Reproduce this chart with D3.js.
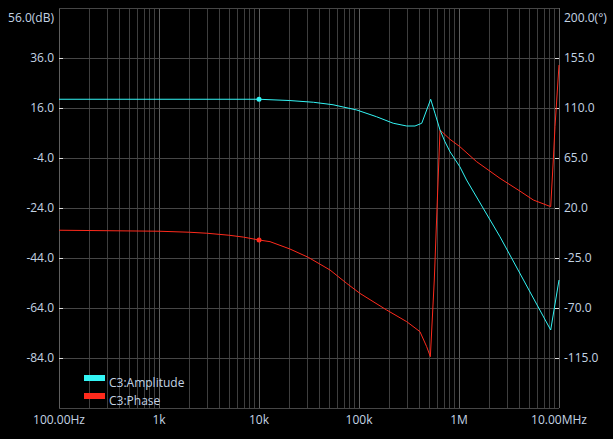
<!DOCTYPE html>
<html>
<head>
<meta charset="utf-8">
<script src="https://cdn.jsdelivr.net/npm/d3@7"></script>
<style>
  html, body { margin: 0; padding: 0; background: #000; }
  svg { display: block; }
  text { font-family: "Open Sans", "Noto Sans", sans-serif; font-size: 12px; fill: #c4d4e4; }
</style>
</head>
<body>
<svg id="chart" width="613" height="439"></svg>
<script>
// Frequency axis (Hz) and its labels
const freqTicks = [1e2, 1e3, 1e4, 1e5, 1e6, 1e7];
const freqLabels = ['100.00Hz', '1k', '10k', '100k', '1M', '10.00MHz'];

// Left axis (dB) and right axis (degrees)
const ampTicks = [56, 36, 16, -4, -24, -44, -64, -84];
const ampLabels = ['56.0(dB)', '36.0', '16.0', '-4.0', '-24.0', '-44.0', '-64.0', '-84.0'];
const phaseTicks = [200, 155, 110, 65, 20, -25, -70, -115];
const phaseLabels = ['200.0(°)', '155.0', '110.0', '65.0', '20.0', '-25.0', '-70.0', '-115.0'];

// C3:Amplitude [Hz, dB]
const ampFreq = [100, 1e4, 2e4, 3.5e4, 5.5e4, 9.5e4, 1.5e5, 2.2e5, 3e5, 3.63e5, 4.24e5, 5.21e5,
                 5.75e5, 6.46e5, 7.24e5, 8.13e5, 1.02e6, 1.19e6, 2.57e6, 8.26e6, 1e7];
const ampDb   = [19.5, 19.5, 19.0, 18.3, 17.3, 15.2, 12.5, 9.9, 8.8, 8.8, 9.9, 19.5,
                 13.9, 7.2, 2.5, -1.5, -7.5, -12.8, -35.5, -72.8, -52.8];

// C3:Phase  [Hz, degrees]
const phaseFreq = [100, 1e3, 2e3, 3e3, 5e3, 7e3, 1e4, 1.29e4, 2.04e4, 3.11e4, 5.13e4, 7.53e4, 1.02e5,
                   1.89e5, 3e5, 4.07e5, 4.75e5, 5.17e5, 5.66e5, 6.46e5, 8.13e5, 1.02e6, 1.5e6,
                   2.57e6, 4.07e6, 5.54e6, 8.26e6, 8.77e6, 9.12e6, 1e7];
const phaseDeg  = [0, -0.9, -1.8, -2.7, -4.5, -6.2, -8.8, -10.3, -16.9, -24.4, -35.8, -47.8, -56.8,
                   -71.8, -82.3, -91.3, -104.8, -113.8, -44.8, 90.2, 81.8, 75.2, 61.7,
                   46.7, 35.2, 27.2, 21.2, 63.2, 93.2, 148.7];

const markerFreq = 1e4;

const seriesNames = ['C3:Amplitude', 'C3:Phase'];
const seriesColors = ['#33f5f5', '#ff2a1c'];

const plot = { left: 59, right: 559, top: 8, bottom: 408 };

const svg = d3.select('#chart');

const x = d3.scaleLog().domain([1e2, 1e7]).range([plot.left, plot.right]);
const yAmp = d3.scaleLinear().domain([-104, 56]).range([plot.bottom, plot.top]);
const yPhase = d3.scaleLinear().domain([-160, 200]).range([plot.bottom, plot.top]);

// Grid: vertical log lines (decades brighter)
const grid = svg.append('g').attr('class', 'grid');
const vLines = [];
for (let dec = 1e2; dec < 1e7; dec *= 10) {
    for (let k = 1; k <= 9; k++) vLines.push({ f: dec * k, major: k === 1 });
}
vLines.push({ f: 1e7, major: true });

grid.selectAll('line.v')
    .data(vLines)
    .join('line')
    .attr('class', 'v')
    .attr('x1', d => Math.round(x(d.f)) + 0.5)
    .attr('x2', d => Math.round(x(d.f)) + 0.5)
    .attr('y1', plot.top)
    .attr('y2', plot.bottom)
    .attr('stroke', d => d.major ? '#5e5e5e' : '#3e3e3e')
    .attr('stroke-width', 1);

// horizontal lines, including the bottom edge
grid.selectAll('line.h')
    .data(ampTicks.concat([-104]))
    .join('line')
    .attr('class', 'h')
    .attr('x1', plot.left)
    .attr('x2', plot.right)
    .attr('y1', d => Math.round(yAmp(d)) + 0.5)
    .attr('y2', d => Math.round(yAmp(d)) + 0.5)
    .attr('stroke', '#464646')
    .attr('stroke-width', 1);

// Left axis: small inner ticks + labels
const leftAxis = svg.append('g').attr('class', 'axis-left');
leftAxis.selectAll('line')
    .data(ampTicks.slice(1))
    .join('line')
    .attr('x1', plot.left)
    .attr('x2', plot.left + 4)
    .attr('y1', d => Math.round(yAmp(d)) + 0.5)
    .attr('y2', d => Math.round(yAmp(d)) + 0.5)
    .attr('stroke', '#dddddd');
leftAxis.selectAll('text')
    .data(ampTicks)
    .join('text')
    .attr('x', 54)
    .attr('y', (d, i) => i === 0 ? yAmp(d) + 10 : yAmp(d))
    .attr('dy', '0.35em')
    .attr('text-anchor', 'end')
    .text((d, i) => ampLabels[i]);

// Right axis
const rightAxis = svg.append('g').attr('class', 'axis-right');
rightAxis.selectAll('line')
    .data(phaseTicks.slice(1))
    .join('line')
    .attr('x1', plot.right - 4)
    .attr('x2', plot.right)
    .attr('y1', d => Math.round(yPhase(d)) + 0.5)
    .attr('y2', d => Math.round(yPhase(d)) + 0.5)
    .attr('stroke', '#dddddd');
rightAxis.selectAll('text')
    .data(phaseTicks)
    .join('text')
    .attr('x', 564)
    .attr('y', (d, i) => i === 0 ? yPhase(d) + 9.5 : yPhase(d))
    .attr('dy', '0.35em')
    .attr('text-anchor', 'start')
    .text((d, i) => phaseLabels[i]);

// Bottom axis labels
svg.append('g').attr('class', 'axis-bottom')
    .selectAll('text')
    .data(freqTicks)
    .join('text')
    .attr('x', d => x(d))
    .attr('y', 424)
    .attr('text-anchor', 'middle')
    .text((d, i) => freqLabels[i]);

// Curves
const ampData = ampFreq.map((f, i) => ({ f, v: ampDb[i] }));
const phaseData = phaseFreq.map((f, i) => ({ f, v: phaseDeg[i] }));

const lineAmp = d3.line().x(d => x(d.f)).y(d => yAmp(d.v));
const linePhase = d3.line().x(d => x(d.f)).y(d => yPhase(d.v));

svg.append('path')
    .datum(phaseData)
    .attr('d', linePhase)
    .attr('fill', 'none')
    .attr('stroke', seriesColors[1])
    .attr('stroke-width', 1);

svg.append('path')
    .datum(ampData)
    .attr('d', lineAmp)
    .attr('fill', 'none')
    .attr('stroke', seriesColors[0])
    .attr('stroke-width', 1);

// Cursor markers at 10k
const ampAt = ampDb[ampFreq.indexOf(markerFreq)];
const phaseAt = phaseDeg[phaseFreq.indexOf(markerFreq)];
svg.append('circle')
    .attr('cx', x(markerFreq)).attr('cy', yAmp(ampAt)).attr('r', 2.5)
    .attr('fill', seriesColors[0]);
svg.append('circle')
    .attr('cx', x(markerFreq)).attr('cy', yPhase(phaseAt)).attr('r', 2.5)
    .attr('fill', seriesColors[1]);

// Legend
const legend = svg.append('g').attr('class', 'legend');
seriesNames.forEach((name, i) => {
    legend.append('rect')
        .attr('x', 84)
        .attr('y', 375 + i * 18)
        .attr('width', 21)
        .attr('height', 6)
        .attr('fill', seriesColors[i]);
    legend.append('text')
        .attr('x', 109)
        .attr('y', 387 + i * 18)
        .text(name);
});
</script>
</body>
</html>
